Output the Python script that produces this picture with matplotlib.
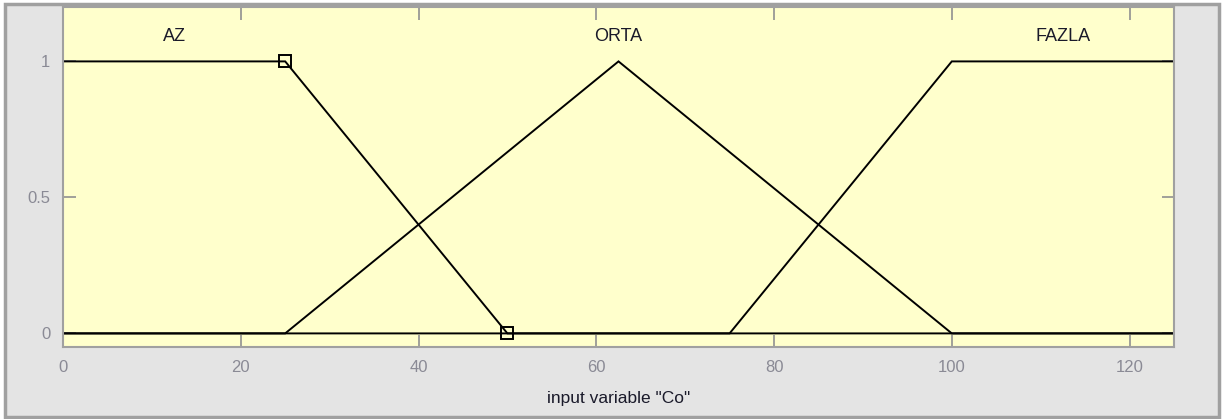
import matplotlib
matplotlib.use("Agg")
import matplotlib.pyplot as plt
from matplotlib.patches import Rectangle
import numpy as np

plt.rcParams['font.family'] = ['Liberation Sans', 'DejaVu Sans']

# membership functions (breakpoints over the universe 0..125)
mf_names = ["AZ", "ORTA", "FAZLA"]
az_x = [0, 25, 50, 125]
az_y = [1, 1, 0, 0]
orta_x = [0, 25, 62.5, 100, 125]
orta_y = [0, 0, 1, 0, 0]
fazla_x = [0, 75, 100, 125]
fazla_y = [0, 0, 1, 1]
label_x = [12.5, 62.5, 112.5]
label_y = 1.09
marker_x = [25, 50]
marker_y = [1, 0]
xticks = [0, 20, 40, 60, 80, 100, 120]
yticks = [0, 0.5, 1]
ytick_labels = ["0", "0.5", "1"]

W, H = 1226, 419
fig = plt.figure(figsize=(W / 100, H / 100), dpi=100, facecolor="white")
bg = Rectangle((5 / W, 2 / H), 1214 / W, 413 / H, transform=fig.transFigure,
               facecolor="#e4e4e4", edgecolor="#a0a0a0", linewidth=2.5, zorder=-10)
fig.add_artist(bg)

ax = fig.add_axes([63 / W, 1 - 347 / H, (1174 - 63) / W, (347 - 7) / H])
ax.set_zorder(1)
ax.set_facecolor("#ffffcc")
ax.set_xlim(0, 125)
ax.set_ylim(-0.05, 1.2)

for xs, ys in [(az_x, az_y), (orta_x, orta_y), (fazla_x, fazla_y)]:
    ax.plot(xs, ys, color="black", lw=1.4, solid_joinstyle="miter")
ax.plot(marker_x, marker_y, linestyle="none", marker="s", markersize=8,
        markerfacecolor="none", markeredgecolor="black", markeredgewidth=1.4)

for name, lx in zip(mf_names, label_x):
    ax.text(lx, label_y, name, ha="center", va="center", fontsize=13, color="#1a1a2a")

ax.set_xticks(xticks)
ax.set_yticks(yticks)
ax.set_yticklabels(ytick_labels)
ax.tick_params(direction="in", length=9, width=1.2, color="#909090",
               labelcolor="#8a8a95", labelsize=12, top=True, right=True, pad=9)
for s in ax.spines.values():
    s.set_color("#a0a0a0")
    s.set_linewidth(1.5)
ax.set_xlabel('input variable "Co"', fontsize=12.5, color="#1a1a2a", labelpad=12)

fig.savefig("out.png", dpi=100, facecolor=fig.get_facecolor())
